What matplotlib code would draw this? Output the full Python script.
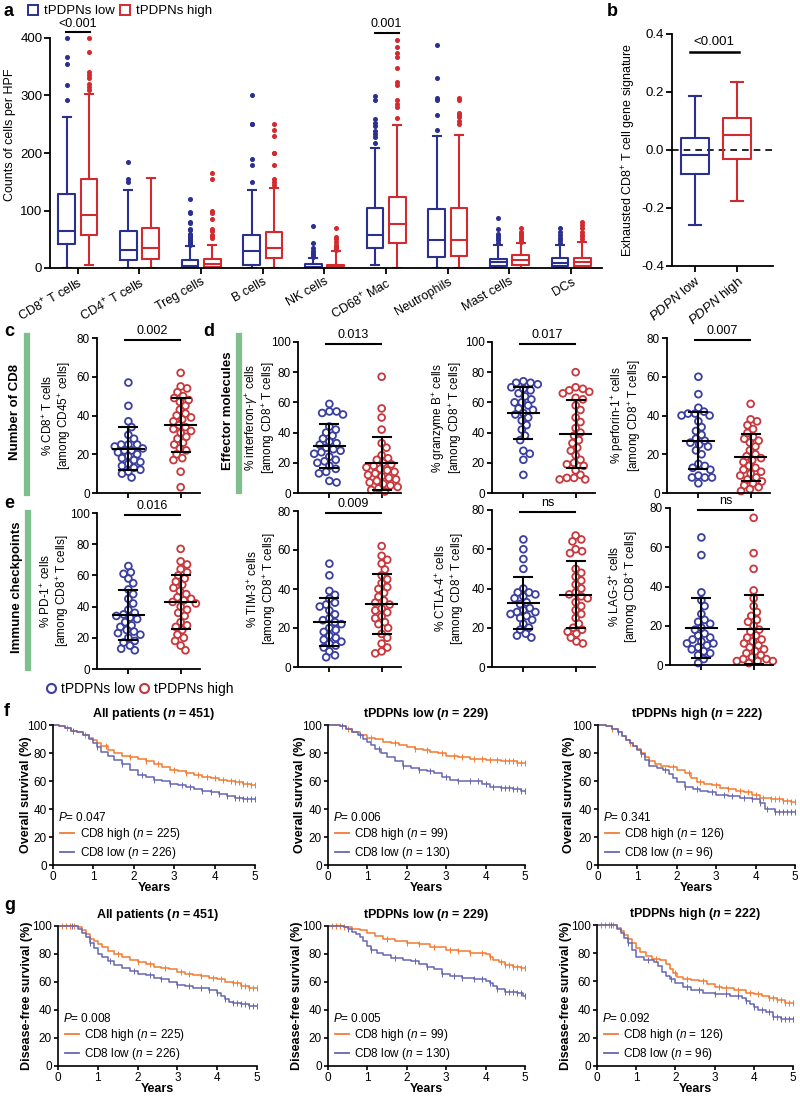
import numpy as np
import matplotlib
matplotlib.use('Agg')
import matplotlib.pyplot as plt
from matplotlib.lines import Line2D

plt.rcParams['font.family'] = ['Liberation Sans', 'DejaVu Sans']
plt.rcParams['mathtext.fontset'] = 'custom'
plt.rcParams['mathtext.rm'] = 'Liberation Sans'
plt.rcParams['mathtext.it'] = 'Liberation Sans:italic'
plt.rcParams['mathtext.bf'] = 'Liberation Sans:bold'
try:
    plt.rcParams['mathtext.bfit'] = 'Liberation Sans:italic:bold'
except KeyError:
    pass

BLUE = '#2b2f8f'
RED = '#d32a2f'
SBLUE = '#3b3f9f'
SRED = '#c8383c'
KM_HIGH = '#f47a30'
KM_LOW = '#6666b3'
GREEN = '#7fbf8e'

# ---------------- panel a data (box stats) ----------------
cells = ['CD8$^{+}$ T cells', 'CD4$^{+}$ T cells', 'Treg cells', 'B cells', 'NK cells',
         'CD68$^{+}$ Mac', 'Neutrophils', 'Mast cells', 'DCs']
a_low_lo = [0, 0, 0, 0, 0, 6, 0, 0, 0]
a_low_q1 = [42, 14, 1, 6, 0, 35, 19, 4, 3]
a_low_med = [65, 32, 4, 29, 2, 57, 49, 10, 9]
a_low_q3 = [128, 65, 14, 57, 7, 104, 102, 16, 17]
a_low_hi = [263, 136, 38, 136, 17, 209, 229, 40, 40]
a_low_fl = [[293, 318, 355, 367, 400], [150, 155, 185],
            [40, 42, 45, 48, 50, 53, 55, 57, 60, 66, 68, 78, 80, 95, 97, 120],
            [150, 180, 190, 250, 250, 300], [20, 22, 25, 27, 30, 35, 43, 73],
            [217, 227, 233, 239, 247, 253, 259, 293, 299], [240, 266, 292, 295, 331, 387],
            [44, 48, 52, 55, 60, 67, 87], [44, 48, 52, 58, 62, 70]]
a_high_lo = [5, 0, 0, 0, 0, 0, 0, 0, 0]
a_high_q1 = [57, 16, 2, 17, 0, 44, 21, 6, 4]
a_high_med = [92, 34, 7, 34, 2, 76, 48, 14, 10]
a_high_q3 = [155, 70, 16, 63, 5, 124, 105, 22, 18]
a_high_hi = [302, 156, 40, 140, 30, 249, 231, 43, 45]
a_high_fl = [[310, 315, 320, 330, 335, 340, 375, 400], [],
             [52, 55, 58, 65, 68, 85, 95, 100, 155, 165],
             [145, 150, 155, 180, 200, 200, 230, 240, 250], [32, 35, 37, 40, 45, 50, 54, 70],
             [260, 280, 286, 292, 318, 324, 347, 367, 374, 385, 397],
             [250, 256, 262, 266, 270, 292, 295], [45, 48, 52, 55, 59, 62, 70],
             [50, 55, 58, 62, 70, 75, 80]]

# ---------------- panel b ----------------
b_labels = ['$\\mathit{PDPN}$ low', '$\\mathit{PDPN}$ high']
b_low = [-0.259, -0.083, -0.017, 0.041, 0.187]
b_high = [-0.175, -0.031, 0.052, 0.109, 0.235]

# ---------------- panels c-e (percent values per patient) ----------------
c_low = [57, 45, 37, 34, 30, 28, 25, 25, 25, 24, 23, 22, 22, 21, 20, 19, 18, 17, 16, 15, 14, 13, 12, 11, 10, 8]
c_high = [62, 55, 54, 52, 50, 49, 48, 47, 45, 43, 41, 40, 39, 38, 37, 35, 34, 33, 32, 31, 29, 28, 26, 25, 23,
          22, 20, 18, 17, 11, 3]
ifn_low = [59, 54, 54, 53, 52, 44, 42, 40, 38, 36, 34, 33, 32, 30, 29, 28, 27, 26, 24, 22, 21, 20, 18, 16, 14,
           13, 8, 7]
ifn_high = [77, 56, 50, 42, 33, 30, 25, 23, 22, 20, 19, 18, 17, 16, 15, 14, 13, 12, 11, 10, 9, 8, 7, 6, 5, 4,
            3, 2, 1]
gzb_low = [74, 73, 73, 72, 70, 69, 68, 66, 64, 62, 60, 60, 58, 56, 55, 53, 52, 50, 48, 45, 42, 38, 35, 28, 26,
           22, 12]
gzb_high = [80, 70, 69, 68, 67, 66, 63, 62, 58, 55, 50, 47, 43, 40, 38, 35, 33, 30, 28, 25, 22, 20, 19, 18, 15,
            12, 10, 9, 9, 10]
prf_low = [60, 51, 44, 42, 41, 41, 40, 40, 37, 34, 32, 30, 28, 27, 26, 25, 24, 22, 20, 15, 14, 13, 12, 9, 8, 8,
           8, 5]
prf_high = [46, 38, 37, 35, 33, 31, 29, 28, 27, 26, 24, 22, 20, 19, 18, 17, 16, 14, 13, 12, 11, 10, 9, 8, 7, 6,
            5, 4, 3, 2, 1]
pd1_low = [66, 62, 61, 58, 55, 51, 48, 45, 42, 38, 36, 35, 34, 33, 32, 30, 28, 27, 25, 24, 23, 22, 20, 18, 17,
           15, 13, 12]
pd1_high = [77, 69, 67, 64, 62, 60, 58, 56, 54, 52, 50, 48, 46, 45, 44, 43, 42, 40, 38, 36, 34, 30, 28, 27, 25,
            22, 20, 18, 15, 12]
tim_low = [53, 47, 39, 37, 35, 33, 32, 31, 29, 27, 25, 24, 23, 22, 20, 19, 18, 16, 15, 14, 13, 12, 11, 10, 8, 6, 5]
tim_high = [62, 57, 55, 53, 50, 47, 45, 43, 41, 40, 38, 36, 34, 33, 32, 30, 29, 28, 26, 25, 23, 22, 20, 17, 15,
            12, 10, 8, 7]
ctla_low = [65, 60, 55, 50, 40, 38, 38, 37, 36, 35, 33, 32, 30, 29, 28, 28, 27, 26, 25, 24, 22, 20, 19, 17, 16, 15]
ctla_high = [67, 65, 64, 60, 59, 58, 50, 48, 46, 44, 42, 40, 38, 37, 36, 35, 33, 31, 29, 27, 25, 22, 20, 19, 18,
             17, 15, 13, 12]
lag_low = [65, 56, 37, 33, 30, 26, 23, 22, 21, 19, 18, 16, 15, 14, 13, 12, 11, 11, 10, 9, 8, 7, 6, 5, 3, 1]
lag_high = [75, 57, 49, 38, 34, 30, 27, 25, 23, 22, 20, 18, 17, 15, 14, 13, 12, 11, 10, 9, 8, 7, 6, 5, 4, 3, 3,
            2, 2, 2, 1]

# ---------------- panels f-g (Kaplan-Meier steps) ----------------
f1_hi_t = [0, 0.15, 0.3, 0.45, 0.6, 0.75, 0.9, 1.0, 1.1, 1.2, 1.35, 1.5, 1.7, 1.9, 2.1, 2.3, 2.5, 2.7, 2.9, 3.1,
           3.3, 3.5, 3.7, 3.9, 4.1, 4.3, 4.5, 4.7, 4.9]
f1_hi_s = [100, 99, 98, 96, 95, 93, 91, 89, 87, 85, 82, 80, 78, 77, 76, 74, 72, 70, 68, 67, 66, 64, 63, 62, 61,
           60, 59, 58, 57]
f1_lo_t = [0, 0.15, 0.3, 0.45, 0.6, 0.75, 0.9, 1.0, 1.1, 1.2, 1.35, 1.5, 1.7, 1.9, 2.1, 2.3, 2.5, 2.7, 2.9, 3.1,
           3.3, 3.5, 3.7, 3.9, 4.1, 4.3, 4.5, 4.7, 4.9]
f1_lo_s = [100, 99, 98, 96, 95, 93, 90, 87, 84, 81, 78, 75, 72, 68, 64, 63, 61, 60, 58, 57, 56, 54, 53, 52, 51,
           49, 48, 47, 47]
f2_hi_t = [0, 0.3, 0.45, 0.6, 0.8, 1.0, 1.2, 1.4, 1.6, 1.8, 2.0, 2.2, 2.4, 2.6, 2.8, 3.0, 3.3, 3.6, 4.0, 4.4, 4.8]
f2_hi_s = [100, 99, 97, 95, 93, 91, 90, 88, 87, 86, 84, 83, 82, 81, 80, 78, 77, 76, 75, 74, 73]
f2_lo_t = [0, 0.3, 0.45, 0.6, 0.75, 0.9, 1.0, 1.1, 1.2, 1.35, 1.5, 1.7, 1.9, 2.1, 2.3, 2.5, 2.7, 2.9, 3.1, 3.3,
           3.6, 3.9, 4.1, 4.4, 4.7, 4.9]
f2_lo_s = [100, 99, 97, 95, 93, 90, 88, 86, 83, 80, 77, 74, 71, 69, 68, 67, 66, 63, 61, 60, 60, 58, 56, 55, 54, 53]
f3_hi_t = [0, 0.2, 0.35, 0.5, 0.6, 0.7, 0.8, 0.9, 1.0, 1.1, 1.2, 1.3, 1.45, 1.6, 1.8, 2.0, 2.2, 2.35, 2.5, 2.7,
           2.9, 3.1, 3.3, 3.5, 3.7, 3.9, 4.1, 4.4, 4.7, 4.9]
f3_hi_s = [100, 99, 97, 95, 92, 89, 87, 85, 83, 80, 77, 74, 72, 71, 70, 68, 66, 62, 59, 58, 57, 55, 54, 53, 52,
           50, 48, 47, 46, 45]
f3_lo_t = [0, 0.2, 0.35, 0.5, 0.6, 0.7, 0.8, 0.9, 1.0, 1.1, 1.2, 1.3, 1.5, 1.65, 1.8, 1.9, 2.0, 2.2, 2.4, 2.6,
           2.8, 3.0, 3.3, 3.6, 3.9, 4.1, 4.25, 4.5]
f3_lo_s = [100, 99, 97, 95, 92, 89, 87, 85, 82, 79, 75, 71, 69, 68, 65, 62, 59, 56, 54, 53, 52, 50, 49, 48, 47,
           44, 40, 38]
g1_hi_t = [0, 0.5, 0.6, 0.7, 0.8, 0.9, 1.0, 1.1, 1.25, 1.4, 1.6, 1.8, 2.0, 2.2, 2.4, 2.6, 2.8, 3.0, 3.2, 3.4,
           3.6, 3.8, 4.0, 4.2, 4.4, 4.6, 4.8]
g1_hi_s = [100, 99, 97, 94, 91, 89, 87, 85, 82, 80, 78, 76, 74, 73, 71, 70, 69, 67, 66, 65, 64, 63, 62, 60, 59,
           57, 56]
g1_lo_t = [0, 0.5, 0.6, 0.7, 0.8, 0.9, 1.0, 1.1, 1.25, 1.4, 1.6, 1.8, 2.0, 2.2, 2.4, 2.6, 2.8, 3.0, 3.2, 3.4,
           3.6, 3.8, 4.0, 4.1, 4.2, 4.3, 4.4, 4.6, 4.8]
g1_lo_s = [100, 98, 95, 92, 88, 84, 80, 78, 75, 72, 70, 68, 66, 65, 63, 62, 60, 58, 57, 56, 56, 54, 52, 50, 48,
           46, 45, 44, 43]
g2_hi_t = [0, 0.4, 0.6, 0.8, 1.0, 1.2, 1.4, 1.7, 2.0, 2.3, 2.6, 3.0, 3.3, 3.6, 4.0, 4.1, 4.2, 4.35, 4.5, 4.7, 4.9]
g2_hi_s = [100, 99, 98, 97, 95, 93, 91, 89, 88, 87, 85, 83, 82, 81, 80, 78, 76, 74, 72, 71, 70]
g2_lo_t = [0, 0.4, 0.5, 0.6, 0.7, 0.8, 0.9, 1.0, 1.1, 1.25, 1.4, 1.6, 1.9, 2.1, 2.3, 2.5, 2.7, 2.9, 3.1, 3.4,
           3.7, 4.0, 4.1, 4.2, 4.3, 4.5, 4.8, 4.95]
g2_lo_s = [100, 99, 98, 96, 94, 92, 89, 86, 83, 81, 79, 77, 76, 75, 73, 71, 69, 66, 64, 63, 62, 61, 59, 57, 55,
           53, 52, 50]
g3_hi_t = [0, 0.5, 0.6, 0.7, 0.8, 0.9, 1.0, 1.1, 1.25, 1.4, 1.6, 1.75, 1.85, 1.95, 2.05, 2.2, 2.4, 2.6, 2.8,
           3.0, 3.2, 3.5, 3.8, 4.0, 4.2, 4.4, 4.6, 4.8]
g3_hi_s = [100, 98, 96, 93, 90, 87, 84, 81, 78, 76, 75, 72, 69, 66, 63, 62, 61, 60, 58, 56, 55, 54, 52, 51, 50,
           48, 47, 45]
g3_lo_t = [0, 0.5, 0.6, 0.7, 0.8, 0.9, 1.0, 1.2, 1.45, 1.55, 1.65, 1.75, 1.85, 2.0, 2.2, 2.4, 2.7, 3.0, 3.4,
           3.7, 3.8, 3.9, 4.0, 4.1, 4.3, 4.5, 4.7]
g3_lo_s = [100, 97, 94, 91, 87, 82, 77, 75, 74, 71, 67, 64, 62, 59, 56, 54, 52, 51, 50, 48, 46, 44, 42, 40, 38,
           35, 33]
cens_a = [0.35, 0.8, 1.3, 1.9, 2.3, 2.6, 3.0, 3.3, 3.6, 3.8, 4.0, 4.2, 4.4, 4.5, 4.6, 4.7, 4.8, 4.9, 5.0]
cens_b = [0.5, 1.1, 1.7, 2.2, 2.5, 2.9, 3.2, 3.4, 3.7, 3.9, 4.1, 4.3, 4.5, 4.6, 4.7, 4.8, 4.9, 5.0]
cens_g = [0.1, 0.2, 0.3, 0.4, 1.5, 2.0, 2.3, 2.7, 3.1, 3.3, 3.6, 3.9, 4.1, 4.4, 4.5, 4.6, 4.7, 4.8, 4.9, 5.0]

W, H = 800, 1101
fig = plt.figure(figsize=(8, 11.01), dpi=100)


def box(l, t, r, b):
    return [l / W, 1 - b / H, (r - l) / W, (b - t) / H]


def ftext(x, y, s, **kw):
    fig.text(x / W, 1 - y / H, s, **kw)


def style(ax, lw=1.3, size=9.5, length=4):
    for sp in ['top', 'right']:
        ax.spines[sp].set_visible(False)
    for sp in ['left', 'bottom']:
        ax.spines[sp].set_linewidth(lw)
    ax.tick_params(width=lw, length=length, labelsize=size, pad=1.5)


def stats(lo, q1, med, q3, hi, fl=()):
    return dict(whislo=lo, q1=q1, med=med, q3=q3, whishi=hi, fliers=np.array(fl, dtype=float))


def draw_boxes(ax, st, pos, color, width, capw, ms=2.6):
    lp = dict(color=color, lw=1.5)
    r = ax.bxp(st, positions=pos, widths=width, capwidths=capw, boxprops=lp, whiskerprops=lp,
               capprops=lp, medianprops=lp,
               flierprops=dict(marker='o', ms=ms, mfc=color, mec=color, ls='none'), manage_ticks=False)
    for f in r['fliers']:
        f.set_clip_on(False)


# ---------------- a ----------------
ax = fig.add_axes(box(50, 38, 602, 268))
style(ax)
n = len(cells)
xs = np.arange(n)
low_st = [stats(a_low_lo[i], a_low_q1[i], a_low_med[i], a_low_q3[i], a_low_hi[i], a_low_fl[i]) for i in range(n)]
high_st = [stats(a_high_lo[i], a_high_q1[i], a_high_med[i], a_high_q3[i], a_high_hi[i], a_high_fl[i]) for i in range(n)]
draw_boxes(ax, low_st, xs - 0.18, BLUE, 0.27, 0.13)
draw_boxes(ax, high_st, xs + 0.18, RED, 0.27, 0.13)
ax.set_xlim(-0.45, 8.5)
ax.set_ylim(0, 400)
ax.set_yticks([0, 100, 200, 300, 400])
ax.set_xticks(xs)
ax.set_xticklabels(cells, rotation=30, ha='right', rotation_mode='anchor', fontsize=9)
ax.plot([-0.19, 0.2], [410, 410], color='k', lw=1.5, clip_on=False)
ax.text(0.0, 414, '<0.001', ha='center', va='bottom', fontsize=9)
ax.plot([4.82, 5.21], [409, 409], color='k', lw=1.5, clip_on=False)
ax.text(5.0, 414, '0.001', ha='center', va='bottom', fontsize=9)
ftext(10, 135, 'Counts of cells per HPF', rotation=90, ha='center', va='center', fontsize=9)
ftext(3, 11, 'a', fontsize=13, fontweight='bold', va='center')
h = [Line2D([], [], ls='none', marker='s', ms=6.5, mfc='none', mec=BLUE, mew=1.4),
     Line2D([], [], ls='none', marker='s', ms=6.5, mfc='none', mec=RED, mew=1.4)]
fig.legend(h, ['tPDPNs low', 'tPDPNs high'], loc='center left', bbox_to_anchor=(20 / W, 1 - 11 / H),
           ncol=2, frameon=False, handletextpad=0.3, columnspacing=0.3, fontsize=9.5, handlelength=1.0,
           borderpad=0)

# ---------------- b ----------------
ax = fig.add_axes(box(672, 34, 773, 266))
style(ax)
draw_boxes(ax, [stats(*b_low)], [0], BLUE, 0.65, 0.3)
draw_boxes(ax, [stats(*b_high)], [1], RED, 0.65, 0.3)
ax.axhline(0, color='k', lw=1.2, ls=(0, (4, 3)), zorder=0)
ax.set_xlim(-0.55, 1.86)
ax.set_ylim(-0.4, 0.4)
ax.set_yticks([-0.4, -0.2, 0.0, 0.2, 0.4])
ax.set_yticklabels(['-0.4', '-0.2', '0.0', '0.2', '0.4'])
ax.set_xticks([0, 1])
ax.set_xticklabels(b_labels, rotation=40, ha='right', rotation_mode='anchor', fontsize=9.5)
ax.plot([-0.12, 1.05], [0.338, 0.338], color='k', lw=1.8)
ax.text(0.46, 0.352, '<0.001', ha='center', va='bottom', fontsize=9.5)
ftext(629, 150, 'Exhausted CD8$^{+}$ T cell gene signature', rotation=90, ha='center', va='center',
      fontsize=9)
ftext(607, 12, 'b', fontsize=13, fontweight='bold', va='center')


# ---------------- c - e ----------------
def swarm(vals, ppu_x, ppu_y, d=6.6):
    vals = np.asarray(vals, dtype=float)
    order = np.argsort(-vals)
    placed = []
    offs = np.zeros(len(vals))
    cands = [0.0]
    for k in range(1, 60):
        cands += [k * 0.8, -k * 0.8]
    for i in order:
        y = vals[i] * ppu_y
        for c in cands:
            if all((c - px) ** 2 + (y - py) ** 2 >= d * d for px, py in placed):
                break
        placed.append((c, y))
        offs[i] = c / ppu_x
    return offs


def scatter_panel(L, top, bot, ymax, step, lo_vals, hi_vals, ptxt, ylab, ylx):
    ax = fig.add_axes(box(L, top, L + 103, bot))
    style(ax, size=8.5, length=3.5)
    ax.set_xlim(-0.6, 1.37)
    ax.set_ylim(0, ymax)
    ax.set_yticks(np.arange(0, ymax + 1, step))
    ax.set_xticks([0, 1])
    ax.set_xticklabels([])
    ppu_x = 103 / 1.97
    ppu_y = (bot - top) / ymax
    for k, (vals, col) in enumerate([(lo_vals, SBLUE), (hi_vals, SRED)]):
        x = k + swarm(vals, ppu_x, ppu_y)
        ax.scatter(x, vals, s=24, facecolors='none', edgecolors=col, linewidths=1.3, clip_on=False, zorder=2)
        m = np.mean(vals)
        sd = np.std(vals, ddof=1)
        ax.plot([k - 0.29, k + 0.29], [m, m], color='k', lw=1.5, zorder=3)
        ax.plot([k, k], [m - sd, m + sd], color='k', lw=1.5, zorder=3)
        ax.plot([k - 0.17, k + 0.17], [m + sd, m + sd], color='k', lw=1.5, zorder=3)
        ax.plot([k - 0.17, k + 0.17], [m - sd, m - sd], color='k', lw=1.5, zorder=3)
    yb = ymax * 0.985
    ax.plot([-0.06, 0.98], [yb, yb], color='k', lw=1.5, clip_on=False)
    ax.text(0.46, yb + ymax * 0.02, ptxt, ha='center', va='bottom', fontsize=9)
    ftext(ylx, (top + bot) / 2, ylab, rotation=90, ha='center', va='center', fontsize=8.5, linespacing=1.05)
    return ax


scatter_panel(97, 338, 493, 80, 20, c_low, c_high, '0.002',
              '% CD8$^{+}$ T cells\n[among CD45$^{+}$ cells]', 57)
scatter_panel(298, 342, 493, 100, 20, ifn_low, ifn_high, '0.013',
              '% interferon-$\\gamma^{+}$ cells\n[among CD8$^{+}$ T cells]', 260)
scatter_panel(492, 342, 493, 100, 20, gzb_low, gzb_high, '0.017',
              '% granzyme B$^{+}$ cells\n[among CD8$^{+}$ T cells]', 447)
scatter_panel(667, 338, 493, 80, 20, prf_low, prf_high, '0.007',
              '% perforin-1$^{+}$ cells\n[among CD8$^{+}$ T cells]', 626)
scatter_panel(97, 513, 669, 100, 20, pd1_low, pd1_high, '0.016',
              '% PD-1$^{+}$ cells\n[among CD8$^{+}$ T cells]', 55)
scatter_panel(298, 511, 667, 80, 20, tim_low, tim_high, '0.009',
              '% TIM-3$^{+}$ cells\n[among CD8$^{+}$ T cells]', 262)
scatter_panel(492, 510, 667, 80, 20, ctla_low, ctla_high, 'ns',
              '% CTLA-4$^{+}$ cells\n[among CD8$^{+}$ T cells]', 450)
scatter_panel(670, 508, 665, 80, 20, lag_low, lag_high, 'ns',
              '% LAG-3$^{+}$ cells\n[among CD8$^{+}$ T cells]', 624)

for gx, gt, gb, lab, lx in [(27, 336, 493, 'Number of CD8', 15), (239, 336, 491, 'Effector molecules', 228),
                            (28, 513, 668, 'Immune checkpoints', 17)]:
    fig.add_artist(Line2D([gx / W, gx / W], [1 - gt / H, 1 - gb / H], color=GREEN, lw=4.5))
    ftext(lx, (gt + gb) / 2 - 3, lab, rotation=90, ha='center', va='center', fontsize=9.5, fontweight='bold')

ftext(4, 332, 'c', fontsize=13, fontweight='bold', va='center')
ftext(203, 332, 'd', fontsize=13, fontweight='bold', va='center')
ftext(4, 504, 'e', fontsize=13, fontweight='bold', va='center')
h = [Line2D([], [], ls='none', marker='o', ms=6.5, mfc='none', mec=SBLUE, mew=1.5),
     Line2D([], [], ls='none', marker='o', ms=6.5, mfc='none', mec=SRED, mew=1.5)]
fig.legend(h, ['tPDPNs low', 'tPDPNs high'], loc='center left', bbox_to_anchor=(37 / W, 1 - 689 / H),
           ncol=2, frameon=False, handletextpad=0.2, columnspacing=0.2, fontsize=10, handlelength=1.0,
           borderpad=0)


# ---------------- f - g ----------------
def km_panel(L, top, R, bot, title, ylab, ylx, hi, lo, ptxt, n_hi, n_lo, cens_hi, cens_lo):
    ax = fig.add_axes(box(L, top, R, bot))
    style(ax, lw=1.2, size=8.5, length=3)
    for (t, s, col, cen) in [(hi[0], hi[1], KM_HIGH, cens_hi), (lo[0], lo[1], KM_LOW, cens_lo)]:
        t = np.array(t + [5.0])
        s = np.array(s + [s[-1]])
        ax.step(t, s, where='post', color=col, lw=1.1, clip_on=False)
        cen = np.array(cen)
        cy = s[np.searchsorted(t, cen, side='right') - 1]
        ax.plot(cen, cy, ls='none', marker='|', ms=4, mew=0.7, color=col, clip_on=False)
    ax.set_xlim(0, 5)
    ax.set_ylim(0, 100)
    ax.set_xticks(range(6))
    ax.set_yticks(range(0, 101, 20))
    ax.set_xlabel('Years', fontsize=9, fontweight='bold', labelpad=-1)
    ax.set_title(title, fontsize=9, fontweight='bold', pad=6)
    ax.text(0.13, 34, '$\\mathit{P}$= ' + ptxt, fontsize=8.5, va='center')
    hh = [Line2D([], [], color=KM_HIGH, lw=1.3), Line2D([], [], color=KM_LOW, lw=1.3)]
    ax.legend(hh, ['CD8 high ($\\mathit{n}$ = %d)' % n_hi, 'CD8 low ($\\mathit{n}$ = %d)' % n_lo],
              loc='lower left', bbox_to_anchor=(0.035, 0.03), frameon=False, fontsize=8.5,
              handlelength=1.2, handletextpad=0.45, labelspacing=0.2, borderpad=0, borderaxespad=0)
    ftext(ylx, (top + bot) / 2, ylab, rotation=90, ha='center', va='center', fontsize=9, fontweight='bold')


titles = ['All patients ($\\mathbfit{n}$ = 451)', 'tPDPNs low ($\\mathbfit{n}$ = 229)',
          'tPDPNs high ($\\mathbfit{n}$ = 222)']
km_panel(53, 725, 255, 865, titles[0], 'Overall survival (%)', 26, (f1_hi_t, f1_hi_s), (f1_lo_t, f1_lo_s),
         '0.047', 225, 226, cens_a, cens_b)
km_panel(328, 725, 525, 865, titles[1], 'Overall survival (%)', 300, (f2_hi_t, f2_hi_s), (f2_lo_t, f2_lo_s),
         '0.006', 99, 130, cens_b, cens_a)
km_panel(598, 725, 795, 865, titles[2], 'Overall survival (%)', 569, (f3_hi_t, f3_hi_s), (f3_lo_t, f3_lo_s),
         '0.341', 126, 96, cens_a, cens_b)
km_panel(58, 926, 257, 1066, titles[0], 'Disease-free survival (%)', 27, (g1_hi_t, g1_hi_s),
         (g1_lo_t, g1_lo_s), '0.008', 225, 226, cens_g, cens_a)
km_panel(328, 926, 525, 1066, titles[1], 'Disease-free survival (%)', 297, (g2_hi_t, g2_hi_s),
         (g2_lo_t, g2_lo_s), '0.005', 99, 130, cens_g, cens_b)
km_panel(597, 925, 793, 1066, titles[2], 'Disease-free survival (%)', 566, (g3_hi_t, g3_hi_s),
         (g3_lo_t, g3_lo_s), '0.092', 126, 96, cens_g, cens_a)
ftext(4, 712, 'f', fontsize=13, fontweight='bold', va='center')
ftext(4, 905, 'g', fontsize=13, fontweight='bold', va='center')

fig.savefig('out.png', dpi=100)
